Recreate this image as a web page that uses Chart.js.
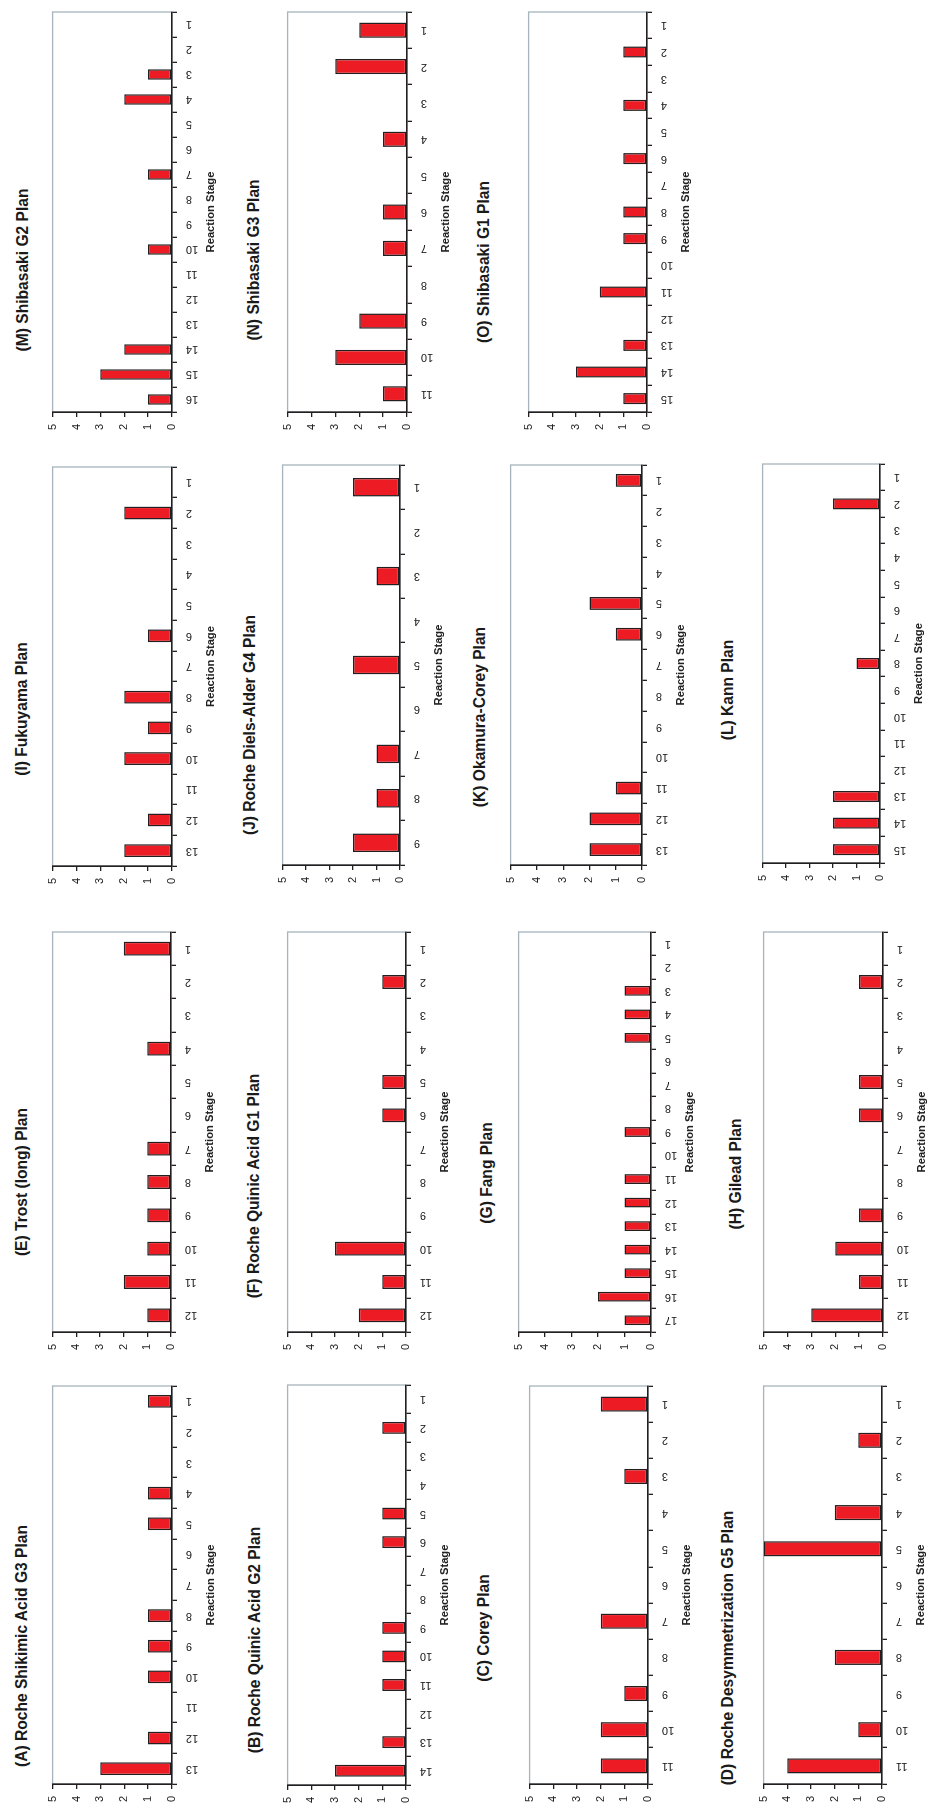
<!DOCTYPE html>
<html>
<head>
<meta charset="utf-8">
<title>Reaction stage plans</title>
<script src="https://cdn.jsdelivr.net/npm/chart.js@4.4.1/dist/chart.umd.min.js"></script>
<style>
  html, body { margin: 0; padding: 0; background: #fff; overflow: hidden; }
  #page { position: relative; width: 931px; height: 1809px; }
  .plan-title {
    position: absolute;
    white-space: nowrap;
    font: bold 15.6px "Liberation Sans", Arial, sans-serif;
    color: #1a1a1a;
    transform: translate(-50%, -50%) rotate(-90deg);
  }
  canvas { position: absolute; transform-origin: 0 0; }
</style>
</head>
<body>
<div id="page"></div>
<script>
// number of events per reaction stage, stage 1 first
const stagesA = [1, 0, 0, 1, 1, 0, 0, 1, 1, 1, 0, 1, 3];
const stagesB = [0, 1, 0, 0, 1, 1, 0, 0, 1, 1, 1, 0, 1, 3];
const stagesC = [2, 0, 1, 0, 0, 0, 2, 0, 1, 2, 2];
const stagesD = [0, 1, 0, 2, 5, 0, 0, 2, 0, 1, 4];
const stagesE = [2, 0, 0, 1, 0, 0, 1, 1, 1, 1, 2, 1];
const stagesF = [0, 1, 0, 0, 1, 1, 0, 0, 0, 3, 1, 2];
const stagesG = [0, 0, 1, 1, 1, 0, 0, 0, 1, 0, 1, 1, 1, 1, 1, 2, 1];
const stagesH = [0, 1, 0, 0, 1, 1, 0, 0, 1, 2, 1, 3];
const stagesI = [0, 2, 0, 0, 0, 1, 0, 2, 1, 2, 0, 1, 2];
const stagesJ = [2, 0, 1, 0, 2, 0, 1, 1, 2];
const stagesK = [1, 0, 0, 0, 2, 1, 0, 0, 0, 0, 1, 2, 2];
const stagesL = [0, 2, 0, 0, 0, 0, 0, 1, 0, 0, 0, 0, 2, 2, 2];
const stagesM = [0, 0, 1, 2, 0, 0, 1, 0, 0, 1, 0, 0, 0, 2, 3, 1];
const stagesN = [2, 3, 0, 1, 0, 1, 1, 0, 2, 3, 1];
const stagesO = [0, 1, 0, 1, 0, 1, 0, 1, 1, 0, 2, 0, 1, 3, 1];

const planTitles = {
  A: "(A) Roche Shikimic Acid G3 Plan",
  B: "(B) Roche Quinic Acid G2 Plan",
  C: "(C) Corey Plan",
  D: "(D) Roche Desymmetrization G5 Plan",
  E: "(E) Trost (long) Plan",
  F: "(F) Roche Quinic Acid G1 Plan",
  G: "(G) Fang Plan",
  H: "(H) Gilead Plan",
  I: "(I) Fukuyama Plan",
  J: "(J) Roche Diels-Alder G4 Plan",
  K: "(K) Okamura-Corey Plan",
  L: "(L) Kann Plan",
  M: "(M) Shibasaki G2 Plan",
  N: "(N) Shibasaki G3 Plan",
  O: "(O) Shibasaki G1 Plan"
};

const axisTitle = "Reaction Stage";
const valueMax = 5;

// where each (rotated) panel sits on the page: plot box and title centre
const panels = [
  { key: "M", data: stagesM, left: 47,  axis: 172, top: 12,   bottom: 412,  tx: 23,  ty: 270 },
  { key: "N", data: stagesN, left: 282, axis: 407, top: 12,   bottom: 412,  tx: 254, ty: 260 },
  { key: "O", data: stagesO, left: 523, axis: 647, top: 12,   bottom: 412,  tx: 484, ty: 262 },
  { key: "I", data: stagesI, left: 47,  axis: 172, top: 467,  bottom: 866,  tx: 22,  ty: 709 },
  { key: "J", data: stagesJ, left: 277, axis: 400, top: 465,  bottom: 865,  tx: 250, ty: 725 },
  { key: "K", data: stagesK, left: 505, axis: 642, top: 465,  bottom: 865,  tx: 480, ty: 717 },
  { key: "L", data: stagesL, left: 757, axis: 880, top: 464,  bottom: 863,  tx: 728, ty: 690 },
  { key: "E", data: stagesE, left: 47,  axis: 171, top: 932,  bottom: 1332, tx: 22,  ty: 1182 },
  { key: "F", data: stagesF, left: 282, axis: 406, top: 932,  bottom: 1332, tx: 254, ty: 1186 },
  { key: "G", data: stagesG, left: 513, axis: 651, top: 932,  bottom: 1332, tx: 487, ty: 1173 },
  { key: "H", data: stagesH, left: 758, axis: 883, top: 932,  bottom: 1332, tx: 736, ty: 1174 },
  { key: "A", data: stagesA, left: 47,  axis: 172, top: 1386, bottom: 1784, tx: 22,  ty: 1646 },
  { key: "B", data: stagesB, left: 282, axis: 406, top: 1385, bottom: 1785, tx: 255, ty: 1640 },
  { key: "C", data: stagesC, left: 524, axis: 648, top: 1386, bottom: 1784, tx: 484, ty: 1628 },
  { key: "D", data: stagesD, left: 758, axis: 882, top: 1386, bottom: 1784, tx: 728, ty: 1648 }
];

Chart.defaults.font.family = "'Liberation Sans', Arial, sans-serif";
Chart.defaults.color = "#222";

const ink = "#231f20";

// light grey frame round the plot area, axes are drawn over it
const plotFrame = {
  id: "plotFrame",
  beforeDraw(chart) {
    const { ctx, chartArea: a } = chart;
    ctx.save();
    ctx.strokeStyle = "#a7b4bc";
    ctx.lineWidth = 1.3;
    ctx.strokeRect(a.left, a.top, a.right - a.left, a.bottom - a.top);
    ctx.restore();
  }
};

const page = document.getElementById("page");

// charts are laid out the normal way (stages along x, count up y)
// and the canvas is turned a quarter to the left, like the printed figure
const padT = 8, padR = 8, padL = 2, padB = 0;
const yAxisW = 28, xAxisH = 48;

panels.forEach(p => {
  const plotW = p.axis - p.left;
  const plotH = p.bottom - p.top;
  const cw = padL + yAxisW + plotH + padR;
  const ch = padT + plotW + xAxisH + padB;

  const canvas = document.createElement("canvas");
  canvas.width = cw;
  canvas.height = ch;
  canvas.style.left = (p.left - padT) + "px";
  canvas.style.top = (p.top - padR) + "px";
  canvas.style.transform = `translate(0, ${cw}px) rotate(-90deg)`;
  page.appendChild(canvas);

  const title = document.createElement("div");
  title.className = "plan-title";
  title.textContent = planTitles[p.key];
  title.style.left = p.tx + "px";
  title.style.top = p.ty + "px";
  page.appendChild(title);

  new Chart(canvas, {
    type: "bar",
    data: {
      labels: p.data.map((_, i) => String(i + 1)),
      datasets: [{
        data: p.data,
        backgroundColor: "#ed1c24",
        borderColor: ink,
        borderWidth: 1.5,
        borderSkipped: false,
        barPercentage: 0.42,
        categoryPercentage: 1
      }]
    },
    options: {
      responsive: false,
      animation: false,
      devicePixelRatio: 1,
      layout: { padding: { top: padT, right: padR, bottom: padB, left: padL } },
      plugins: {
        legend: { display: false },
        tooltip: { enabled: false }
      },
      scales: {
        x: {
          reverse: true,
          offset: true,
          grid: { offset: true, drawOnChartArea: false, tickLength: 5, color: ink, lineWidth: 1.3 },
          border: { color: ink, width: 1.6 },
          ticks: { minRotation: 90, maxRotation: 90, autoSkip: false, padding: 9, font: { size: 11 } },
          title: {
            display: true,
            text: axisTitle,
            font: { size: 11.2, weight: "bold" },
            padding: { top: 0, bottom: 2 }
          },
          afterFit: s => { s.height = xAxisH; }
        },
        y: {
          min: 0,
          max: valueMax,
          ticks: { stepSize: 1, padding: 7, font: { size: 11 } },
          grid: { drawOnChartArea: false, tickLength: 5, color: ink, lineWidth: 1.3 },
          border: { color: ink, width: 1.6 },
          afterFit: s => { s.width = yAxisW; }
        }
      }
    },
    plugins: [plotFrame]
  });
});
</script>
</body>
</html>
